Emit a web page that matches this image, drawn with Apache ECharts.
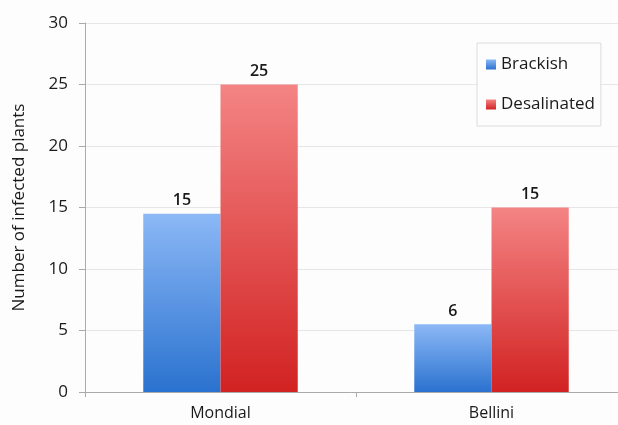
<!DOCTYPE html>
<html><head><meta charset="utf-8">
<script src="https://cdn.jsdelivr.net/npm/echarts@6/dist/echarts.min.js"></script>
<style>html,body{margin:0;padding:0;background:#fdfdfd}#c{width:618px;height:425px}</style>
</head><body><div id="c"></div>
<script>
const categories = ['Mondial', 'Bellini'];
const brackish = [14.5, 5.5];
const desalinated = [25, 15];
const brackishLabels = ['15', '6'];
const desalinatedLabels = ['25', '15'];
const yTicks = [0, 5, 10, 15, 20, 25, 30];

const font = '"Open Sans", Lato, sans-serif';
function grad(top, bottom) {
  return new echarts.graphic.LinearGradient(0, 0, 0, 1, [
    {offset: 0, color: top}, {offset: 1, color: bottom}
  ]);
}
const chart = echarts.init(document.getElementById('c'), null, {renderer: 'canvas'});
chart.setOption({
  backgroundColor: '#fdfdfd',
  animation: false,
  textStyle: {fontFamily: font},
  grid: {left: 85, top: 23, width: 542, height: 369, containLabel: false, outerBoundsMode: 'none'},
  legend: {
    orient: 'vertical', left: 477, top: 43,
    padding: [13, 6, 13, 9], itemGap: 23,
    itemWidth: 10, itemHeight: 10, icon: 'rect',
    borderColor: '#dcdcdc', borderWidth: 1, backgroundColor: '#fdfdfd',
    textStyle: {fontFamily: font, fontSize: 17, color: '#1a1a1a', padding: [0, 0, 0, 0]},
    data: ['Brackish', 'Desalinated']
  },
  xAxis: {
    type: 'category', data: categories,
    axisLine: {lineStyle: {color: '#aaa', width: 1}},
    axisTick: {show: true, length: 5, lineStyle: {color: '#aaa'}},
    axisLabel: {fontFamily: font, fontSize: 16, color: '#1a1a1a', margin: 13}
  },
  yAxis: {
    type: 'value', min: yTicks[0], max: yTicks[yTicks.length - 1], interval: 5,
    name: 'Number of infected plants', nameLocation: 'middle', nameGap: 57,
    nameTextStyle: {fontFamily: font, fontSize: 17, color: '#1a1a1a'},
    axisLine: {show: true, lineStyle: {color: '#aaa'}},
    axisTick: {show: true, length: 6, lineStyle: {color: '#aaa'}},
    axisLabel: {fontFamily: font, fontSize: 17, color: '#1a1a1a', margin: 17},
    splitLine: {lineStyle: {color: '#e6e6e6'}}
  },
  series: [
    {
      name: 'Brackish', type: 'bar', data: brackish,
      barGap: '0%', barCategoryGap: '43%',
      itemStyle: {color: grad('#8cb8f6', '#2a72cf')},
      label: {show: true, position: 'top', distance: 5, fontFamily: font, fontSize: 16, fontWeight: 600, color: '#1a1a1a',
        formatter: p => brackishLabels[p.dataIndex]}
    },
    {
      name: 'Desalinated', type: 'bar', data: desalinated,
      barGap: '0%', barCategoryGap: '43%',
      itemStyle: {color: grad('#f48484', '#d22222')},
      label: {show: true, position: 'top', distance: 5, fontFamily: font, fontSize: 16, fontWeight: 600, color: '#1a1a1a',
        formatter: p => desalinatedLabels[p.dataIndex]}
    }
  ]
});
</script></body></html>
